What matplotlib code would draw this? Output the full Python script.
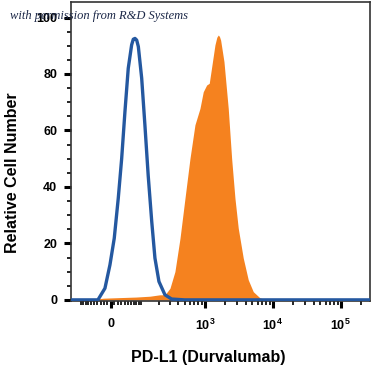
import numpy as np
import matplotlib
matplotlib.use("Agg")
import matplotlib.pyplot as plt
from matplotlib.ticker import FixedLocator, FixedFormatter

plt.rcParams['font.family'] = ['Liberation Sans', 'DejaVu Sans']
plt.rcParams['mathtext.fontset'] = 'custom'
plt.rcParams['mathtext.rm'] = 'Liberation Sans'
plt.rcParams['mathtext.bf'] = 'Liberation Sans:bold'

# isotype control (blue outline)
iso_x = [-150, -60, -37.8, -17, -2.8, 9.3, 20.8, 30.8, 40.9, 51.5, 63.1, 69, 75.3,
         82, 88.6, 103, 118, 135, 155, 175, 203, 252, 319, 500, 1e4, 3e5]
iso_y = [0, 0, 0, 4.1, 12.4, 21.8, 36, 50, 66.7, 82, 90.3, 92.3, 92.6,
         92.0, 89.7, 78.5, 62, 44, 27.7, 14.8, 6.5, 1.8, 0.3, 0, 0, 0]

# PD-L1 stained cells (orange fill)
pdl1_x = [-60, -47, -20, 25, 80, 145, 210, 252, 301, 358, 427, 507, 601, 713,
          846, 946, 1062, 1160, 1230, 1408, 1500, 1575, 1640, 1708, 1912, 2211, 2482,
          2776, 3104, 3679, 4358, 5163, 6481, 8134, 1e4]
pdl1_y = [0, 0.3, 0.6, 0.8, 1.0, 1.3, 1.8, 1.8, 4.1, 10, 21.8, 36, 50, 62,
          67.8, 73.7, 76.1, 76.7, 80.8, 90.3, 93.0, 93.8, 93.3, 92, 84.4, 67.8, 50,
          36, 25.4, 14.8, 7.1, 2.9, 0.7, 0, 0]

major_x = [0, 1e3, 1e4, 1e5]
major_labels = ['0', r'$\mathbf{10^{3}}$', r'$\mathbf{10^{4}}$', r'$\mathbf{10^{5}}$']

W = 83.0
def fwd(x):
    return np.arcsinh(np.asarray(x, dtype=float) / W)
def inv(y):
    return W * np.sinh(np.asarray(y, dtype=float))

fig = plt.figure(figsize=(3.71, 3.72), dpi=100)
ax = fig.add_axes([71/371, 71/372, 299/371, 299/372])
ax.set_xscale('function', functions=(fwd, inv))

orange = '#f5821f'
blue = '#2458a0'
ax.fill_between(pdl1_x, pdl1_y, 0, color=orange, lw=0, zorder=2)
ax.plot(iso_x, iso_y, color=blue, lw=2.4, zorder=3,
        solid_capstyle='round', solid_joinstyle='round')

ax.set_xlim(-150, 2.7e5)
ax.set_ylim(-0.4, 105.5)

minor_x = ([-v for v in range(10, 100, 10)] + [-100] + list(range(10, 100, 10))
           + list(range(100, 1000, 100)) + list(range(2000, 10000, 1000))
           + list(range(20000, 100000, 10000)) + [2e5])
ax.xaxis.set_major_locator(FixedLocator(major_x))
ax.xaxis.set_major_formatter(FixedFormatter(major_labels))
ax.xaxis.set_minor_locator(FixedLocator(minor_x))
ax.yaxis.set_major_locator(FixedLocator([0, 20, 40, 60, 80, 100]))
ax.yaxis.set_minor_locator(FixedLocator(list(range(5, 105, 5))))

ax.tick_params(axis='both', which='major', direction='out', length=5, width=2.2,
               labelsize=9, color='black', pad=5)
ax.tick_params(axis='both', which='minor', direction='out', length=3, width=1.2,
               color='black')
for lab in ax.get_xticklabels() + ax.get_yticklabels():
    lab.set_fontweight('bold')
ax.tick_params(axis='x', which='major', pad=7)

for side in ['left', 'top', 'right', 'bottom']:
    ax.spines[side].set_color('#333333')
    ax.spines[side].set_linewidth(1.2)

ax.set_xlabel('PD-L1 (Durvalumab)', fontsize=11.5, fontweight='bold')
ax.xaxis.label.set_va('center')
ax.xaxis.set_label_coords(0.458, -0.19)
ax.set_ylabel('Relative Cell Number', fontsize=11.5, fontweight='bold')
ax.yaxis.label.set_va('center')
ax.yaxis.set_label_coords(-0.197, 0.43)

fig.text(10/371, 1 - 16/372, 'with permission from R&D Systems',
         fontsize=9, style='italic', family=['Liberation Serif', 'DejaVu Serif'],
         color='#1c2848', va='center', ha='left', zorder=10)

fig.savefig('out.png', dpi=100)
